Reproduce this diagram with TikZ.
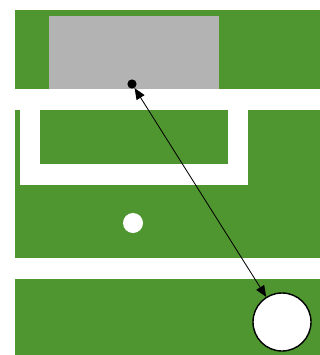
\documentclass[tikz,border=0pt]{standalone}
\usepackage{tikz}
\usetikzlibrary{
	arrows.meta,
	positioning
}
\definecolor{pitchgreen}{RGB}{80,150,48}
\definecolor{goalgray}{RGB}{179,179,179}

\begin{document}
\begin{tikzpicture}[
				x=0.025cm, y=-0.025cm,
				pitch/.style={fill=pitchgreen},
				chalk/.style={fill=white},
				spot/.style={circle, fill=white, inner sep=0pt, minimum size=0.5cm},
				target/.style={circle, fill=black, inner sep=0pt, minimum size=0.23cm},
				ball/.style={circle, draw=black, line width=1pt, fill=white, inner sep=0pt, minimum size=1.45cm},
				shot/.style={{Triangle[length=2.8mm,width=2.3mm]}-{Triangle[length=2.8mm,width=2.3mm]}, line width=0.6pt}
			]
				% 画布
				\useasboundingbox[fill=white] (0,0) rectangle (320,355);
				% 球场
				\fill[pitch] (15,10) rectangle (320,355);
				\fill[goalgray] (49,16) rectangle (219,89);
				% 白线
				\fill[chalk] (15,89) rectangle (320,110);
				\fill[chalk] (20,110) rectangle (248,185);
				\fill[pitch] (40,110) rectangle (228,164);
				\fill[chalk] (15,258) rectangle (320,279);
				% 点
				\node[spot]   (penaltyspot) at (133,223) {};
				\node[target] (aim)         at (132,84)  {};
				\node[ball]   (football)    at (282,322) {};
				% 射门方向
				\draw[shot] (aim) -- (football);
			\end{tikzpicture}
\end{document}
